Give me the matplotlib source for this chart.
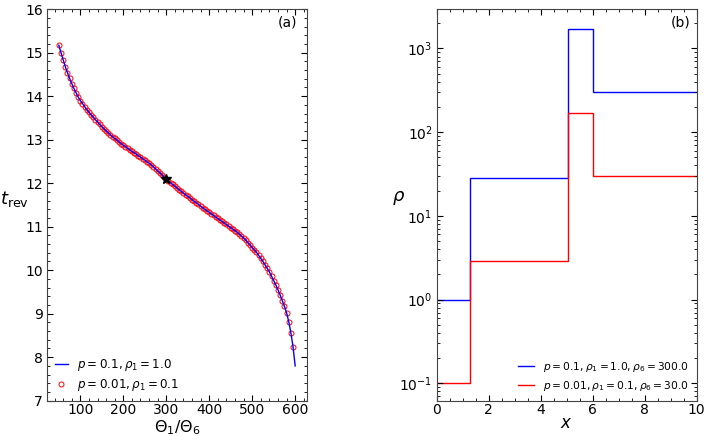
import matplotlib
matplotlib.use("Agg")
import matplotlib.pyplot as plt
from matplotlib.ticker import AutoMinorLocator

# panel (a): t_rev against Theta_1/Theta_6
theta_ratio = [
    50, 55, 60, 65, 70, 75, 80, 85, 90, 95,
    100, 105, 110, 115, 120, 125, 130, 135, 140, 145,
    150, 155, 160, 165, 170, 175, 180, 185, 190, 195,
    200, 205, 210, 215, 220, 225, 230, 235, 240, 245,
    250, 255, 260, 265, 270, 275, 280, 285, 290, 295,
    300, 305, 310, 315, 320, 325, 330, 335, 340, 345,
    350, 355, 360, 365, 370, 375, 380, 385, 390, 395,
    400, 405, 410, 415, 420, 425, 430, 435, 440, 445,
    450, 455, 460, 465, 470, 475, 480, 485, 490, 495,
    500, 505, 510, 515, 520, 525, 530, 535, 540, 545,
    550, 555, 560, 565, 570, 575, 580, 585, 590, 595,
    600,
]
t_rev = [
    15.17, 15.00, 14.84, 14.68, 14.54, 14.41, 14.29, 14.18, 14.08, 13.98,
    13.90, 13.83, 13.76, 13.69, 13.63, 13.57, 13.52, 13.46, 13.41, 13.35,
    13.30, 13.25, 13.20, 13.16, 13.11, 13.07, 13.03, 12.99, 12.95, 12.91,
    12.87, 12.84, 12.80, 12.77, 12.73, 12.70, 12.67, 12.63, 12.60, 12.56,
    12.53, 12.49, 12.46, 12.42, 12.38, 12.33, 12.28, 12.24, 12.19, 12.14,
    12.09, 12.05, 12.01, 11.97, 11.93, 11.89, 11.85, 11.81, 11.77, 11.73,
    11.70, 11.66, 11.62, 11.58, 11.55, 11.51, 11.47, 11.43, 11.40, 11.36,
    11.33, 11.29, 11.26, 11.22, 11.19, 11.15, 11.12, 11.08, 11.05, 11.01,
    10.98, 10.94, 10.91, 10.87, 10.83, 10.78, 10.74, 10.69, 10.63, 10.58,
    10.52, 10.47, 10.41, 10.34, 10.27, 10.20, 10.12, 10.04, 9.96, 9.86,
    9.76, 9.66, 9.55, 9.43, 9.30, 9.17, 9.02, 8.82, 8.56, 8.24,
    7.80,
]
# second parameter set: same curve, sampled up to 595
theta_ratio_pts = theta_ratio[:-1]
t_rev_pts = t_rev[:-1]
star_x, star_y = 300, 12.09

# panel (b): piecewise-constant density profiles
x_edges = [0, 1.28, 5.06, 6.0, 10]
rho_high = [1.0, 28.6, 1700.0, 300.0]
rho_low = [0.1, 2.86, 170.0, 30.0]

plt.rcParams["font.family"] = ["DejaVu Sans"]
plt.rcParams["mathtext.fontset"] = "dejavusans"

fig = plt.figure(figsize=(7.08, 4.36), dpi=100)
ax1 = fig.add_axes([0.0664, 0.081, 0.3672, 0.898])
ax2 = fig.add_axes([0.6168, 0.081, 0.3672, 0.898])

ax1.plot(theta_ratio, t_rev, color="blue", lw=1.0, label=r"$p = 0.1, \rho_1 = 1.0$", zorder=3)
ax1.plot(theta_ratio_pts, t_rev_pts, ls="none", marker="o", ms=3.6, mfc="none",
         mec="red", mew=0.7, label=r"$p = 0.01, \rho_1 = 0.1$", zorder=2)
ax1.plot([star_x], [star_y], marker="*", color="black", ms=7, ls="none", zorder=4)
ax1.set_ylim(7, 16)
ax1.set_xticks([100, 200, 300, 400, 500, 600])
ax1.xaxis.set_minor_locator(AutoMinorLocator(5))
ax1.yaxis.set_minor_locator(AutoMinorLocator(5))
ax1.set_xlabel(r"$\Theta_1/\Theta_6$", fontsize=11.5)
ax1.set_ylabel(r"$t_{\rm rev}$", fontsize=13, rotation=0)
ax1.xaxis.set_label_coords(0.5, -0.069)
ax1.xaxis.label.set_va("center")
ax1.yaxis.set_label_coords(-0.123, 0.515)
ax1.yaxis.label.set_va("center")
ax1.text(0.962, 0.966, "(a)", transform=ax1.transAxes, ha="right", va="center", fontsize=10)
ax1.legend(loc="lower left", frameon=False, fontsize=8.6, handlelength=1.1,
           borderaxespad=0.25, handletextpad=0.8, labelspacing=0.3)

ax2.stairs(rho_high, x_edges, color="blue", lw=1.0, baseline=None,
           label=r"$p = 0.1, \rho_1 = 1.0, \rho_6 = 300.0$")
ax2.stairs(rho_low, x_edges, color="red", lw=1.0, baseline=None,
           label=r"$p = 0.01, \rho_1 = 0.1, \rho_6 = 30.0$")
ax2.set_yscale("log")
ax2.set_xlim(0, 10)
ax2.set_ylim(0.062, 2950)
ax2.xaxis.set_minor_locator(AutoMinorLocator(4))
ax2.set_xlabel(r"$x$", fontsize=12)
ax2.set_ylabel(r"$\rho$", fontsize=13, rotation=0)
ax2.xaxis.set_label_coords(0.5, -0.056)
ax2.xaxis.label.set_va("center")
ax2.yaxis.set_label_coords(-0.148, 0.517)
ax2.yaxis.label.set_va("center")
ax2.text(0.977, 0.966, "(b)", transform=ax2.transAxes, ha="right", va="center", fontsize=10)
ax2.legend(loc="lower right", frameon=False, fontsize=7.7, handlelength=1.5,
           borderaxespad=0.35, handletextpad=0.8, labelspacing=0.45)

for ax in (ax1, ax2):
    ax.tick_params(which="both", direction="in", top=True, right=True, labelsize=10, pad=3)
    ax.tick_params(axis="x", pad=2)
    ax.tick_params(which="major", length=4, width=0.8)
    ax.tick_params(which="minor", length=2, width=0.6)
    for s in ax.spines.values():
        s.set_color("#444444")
        s.set_linewidth(0.8)

fig.savefig("out.png", dpi=100)
